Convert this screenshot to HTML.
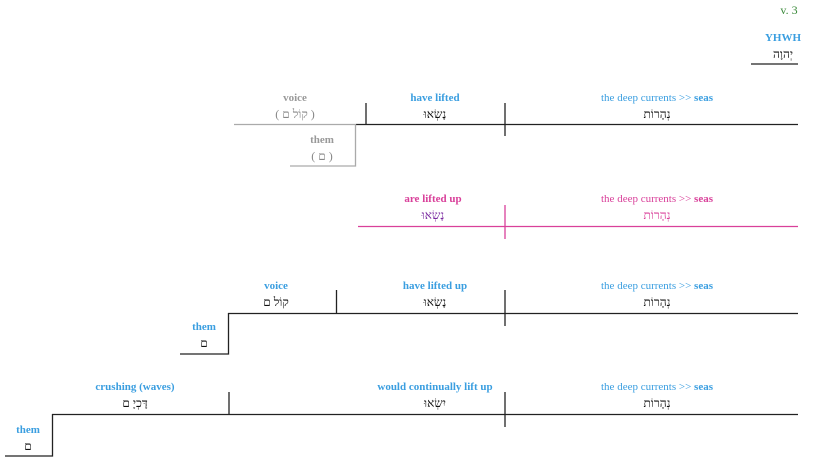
<!DOCTYPE html>
<html><head><meta charset="utf-8"><style>
html,body{margin:0;padding:0;background:#fff}
svg{display:block}
text{font-family:"Liberation Serif","DejaVu Serif",serif;font-size:11px;text-anchor:middle}
.b{fill:#3a9ee0;font-weight:bold}
.h{fill:#111;font-size:12px}
.g{fill:#999;font-weight:bold}
.p{fill:#d9409a;font-weight:bold}
</style></head><body>
<svg width="825" height="467" viewBox="0 0 825 467">
<g stroke-width="1.3" fill="none">
<line x1="751" y1="64" x2="798" y2="64" stroke="#222"/>
<line x1="234" y1="124.5" x2="356" y2="124.5" stroke="#aaa"/>
<line x1="356" y1="124.5" x2="798" y2="124.5" stroke="#222"/>
<line x1="366" y1="103" x2="366" y2="124" stroke="#222"/>
<line x1="505" y1="103" x2="505" y2="136" stroke="#222"/>
<polyline points="290,166 355.5,166 355.5,124" stroke="#aaa"/>
<line x1="358" y1="226.5" x2="798" y2="226.5" stroke="#d9409a"/>
<line x1="505" y1="205" x2="505" y2="239" stroke="#d9409a"/>
<line x1="228" y1="313.5" x2="798" y2="313.5" stroke="#222"/>
<line x1="336.5" y1="290" x2="336.5" y2="313" stroke="#222"/>
<line x1="505" y1="290" x2="505" y2="326" stroke="#222"/>
<polyline points="180,354 228.5,354 228.5,313" stroke="#222"/>
<line x1="52" y1="414.5" x2="798" y2="414.5" stroke="#222"/>
<line x1="229" y1="392" x2="229" y2="414" stroke="#222"/>
<line x1="505" y1="392" x2="505" y2="427" stroke="#222"/>
<polyline points="5,456 52.5,456 52.5,414" stroke="#222"/>
</g>
<text x="789" y="14" style="fill:#3a8a3a;font-size:12px">v. 3</text>
<text x="783" y="41" class="b">YHWH</text>
<text x="783" y="58" class="h">יְהוָה</text>

<text x="295" y="101" class="g">voice</text>
<text x="295" y="118" style="fill:#888;font-size:12px">( קוֹל ם )</text>
<text x="322" y="143" class="g">them</text>
<text x="322" y="160" style="fill:#888;font-size:12px">( ם )</text>
<text x="435" y="101" class="b">have lifted</text>
<text x="435" y="118" class="h">נָשְׂאוּ</text>
<text x="657" y="101" style="fill:#3a9ee0">the deep currents &gt;&gt; <tspan font-weight="bold">seas</tspan></text>
<text x="657" y="118" class="h">נְהָרוֹת</text>

<text x="433" y="202" class="p">are lifted up</text>
<text x="433" y="219" style="fill:#7a2aa0;font-size:12px">נָשְׂאוּ</text>
<text x="657" y="202" style="fill:#d9409a">the deep currents &gt;&gt; <tspan font-weight="bold">seas</tspan></text>
<text x="657" y="219" style="fill:#d9409a;font-size:12px">נְהָרוֹת</text>

<text x="276" y="289" class="b">voice</text>
<text x="276" y="306" class="h">קוֹל ם</text>
<text x="435" y="289" class="b">have lifted up</text>
<text x="435" y="306" class="h">נָשְׂאוּ</text>
<text x="657" y="289" style="fill:#3a9ee0">the deep currents &gt;&gt; <tspan font-weight="bold">seas</tspan></text>
<text x="657" y="306" class="h">נְהָרוֹת</text>
<text x="204" y="330" class="b">them</text>
<text x="204" y="347" class="h">ם</text>

<text x="135" y="390" class="b">crushing (waves)</text>
<text x="135" y="407" class="h">דָּכְיָ ם</text>
<text x="435" y="390" class="b">would continually lift up</text>
<text x="435" y="407" class="h">יִשְׂאוּ</text>
<text x="657" y="390" style="fill:#3a9ee0">the deep currents &gt;&gt; <tspan font-weight="bold">seas</tspan></text>
<text x="657" y="407" class="h">נְהָרוֹת</text>
<text x="28" y="433" class="b">them</text>
<text x="28" y="450" class="h">ם</text>
</svg>
</body></html>
